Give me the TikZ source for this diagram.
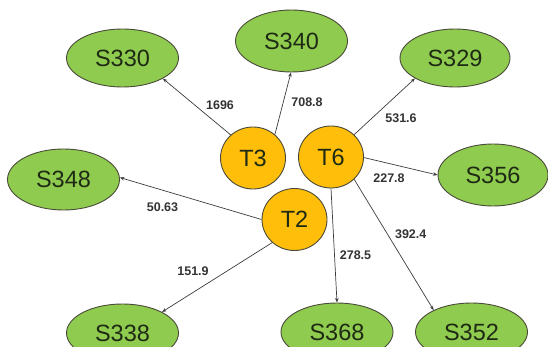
\documentclass[tikz,border=0pt]{standalone}
\usepackage{fontspec}
\setmainfont{Liberation Sans}
\usetikzlibrary{shapes.geometric,arrows.meta}
\definecolor{leaf}{HTML}{8FCB4E}
\definecolor{amber}{HTML}{FFBE0A}
\definecolor{rim}{HTML}{4A4A3A}
\definecolor{ink}{HTML}{1E2A14}
\definecolor{wire}{HTML}{3C3C3C}
\tikzset{
  snode/.style={ellipse, draw=rim, line width=0.9pt, fill=leaf, inner sep=0pt,
    minimum width=112pt, minimum height=58pt, text=ink, font=\fontsize{23.5}{25}\selectfont},
  tnode/.style={ellipse, draw=rim, line width=0.9pt, fill=amber, inner sep=0pt,
    minimum width=65pt, minimum height=62pt, text=ink, font=\fontsize{23.5}{25}\selectfont},
  link/.style={draw=wire, line width=0.7pt, -{Stealth[length=4.5pt,width=3.5pt]}},
  wlabel/.style={text=black!80, font=\fontsize{12.5}{14}\selectfont\bfseries, inner sep=1pt}
}
\begin{document}
\begin{tikzpicture}[x=1pt, y=-1pt]
  \useasboundingbox (0,0) rectangle (548,347);

  % hub stations
  \node[tnode] (T3) at (253,158) {T3};
  \node[tnode] (T6) at (331,157) {T6};
  \node[tnode] (T2) at (294.5,219.5) {T2};

  % terminal sites
  \node[snode] (S330) at (122.5,58) {S330};
  \node[snode, minimum height=62pt] (S340) at (291.5,41) {S340};
  \node[snode, minimum width=110pt] (S329) at (455,58) {S329};
  \node[snode, minimum height=61pt] (S348) at (63.5,179.5) {S348};
  \node[snode, minimum width=110pt, minimum height=62pt] (S356) at (493,175) {S356};
  \node[snode] (S338) at (122.5,333) {S338};
  \node[snode] (S368) at (337,332) {S368};
  \node[snode] (S352) at (471.5,332) {S352};

  % flows
  \draw[link] (T3.134) -- (S330.-27);
  \draw[link] (T3.47) -- (S340.-91);
  \draw[link] (T6.44) -- (S329.-153);
  \draw[link] (T6.-1) -- (S356.180);
  \draw[link] (T6.-90) -- (S368.90);
  \draw[link] (T6.-44) -- (S352.150);
  \draw[link] (T2.180) -- (S348.2);
  \draw[link] (T2.-134) -- (S338.28);

  % flow values
  \node[wlabel] (w1) at (220,105.5) {1696};
  \node[wlabel] (w2) at (307,102.4) {708.8};
  \node[wlabel] (w3) at (401,118) {531.6};
  \node[wlabel] (w4) at (389,178) {227.8};
  \node[wlabel] (w5) at (162.5,207) {50.63};
  \node[wlabel] (w6) at (193,271.5) {151.9};
  \node[wlabel] (w7) at (355.5,255) {278.5};
  \node[wlabel] (w8) at (410.7,234) {392.4};
\end{tikzpicture}
\end{document}
